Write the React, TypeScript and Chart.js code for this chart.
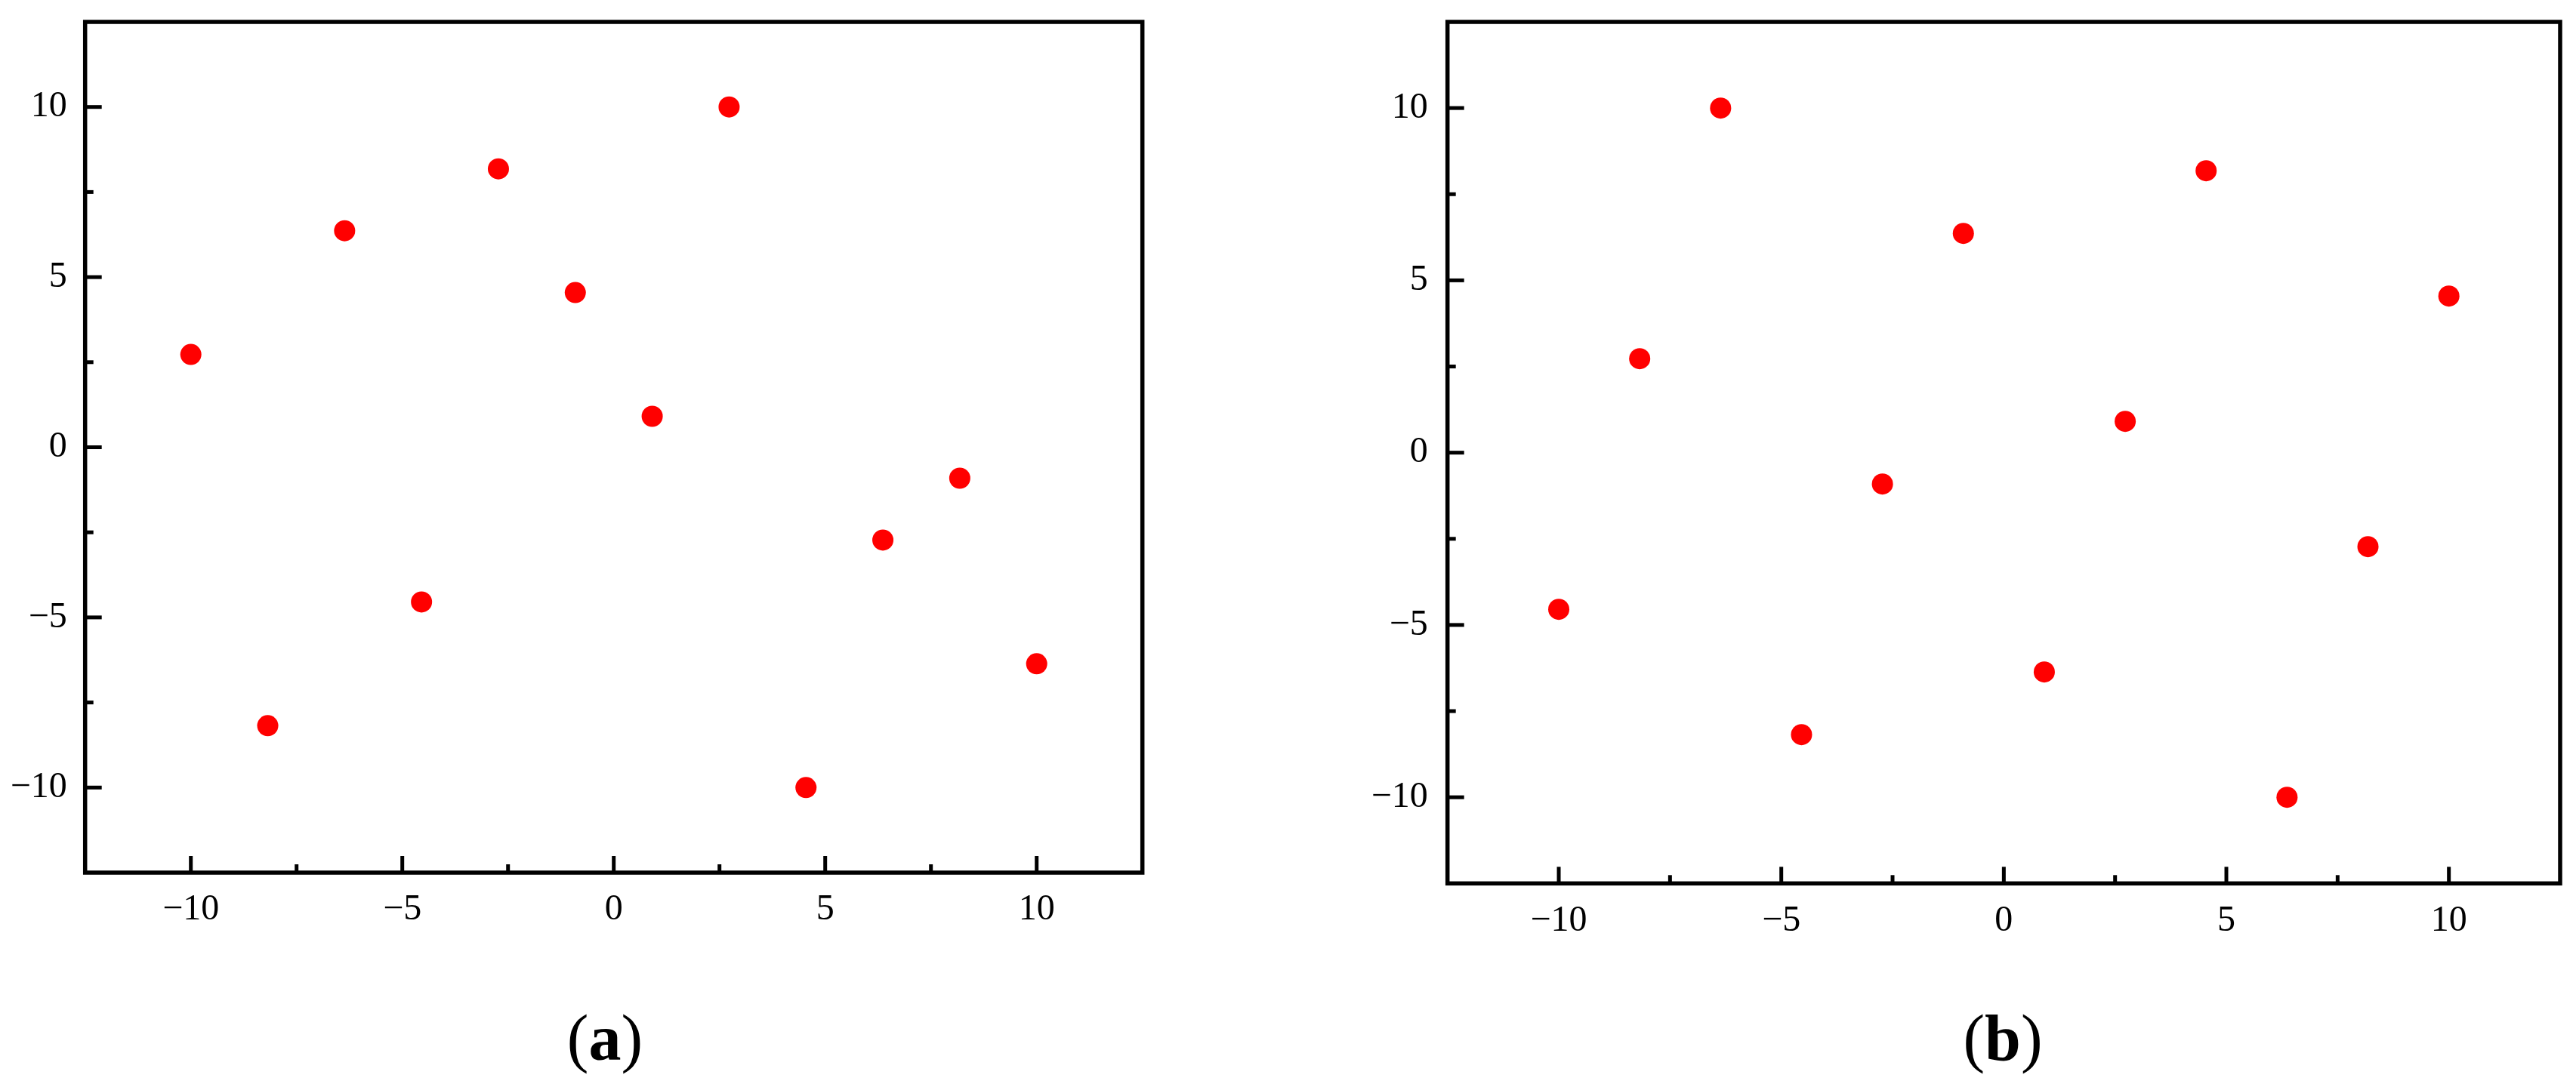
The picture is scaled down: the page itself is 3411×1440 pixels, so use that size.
import React, { useEffect, useRef } from "react";
import { Chart, registerables } from "chart.js";

Chart.register(...registerables);

// ---- data ----
const X_VALUES = [-10, -8.1818, -6.3636, -4.5455, -2.7273, -0.9091, 0.9091, 2.7273, 4.5455, 6.3636, 8.1818, 10];
const Y_VALUES_A = [2.7273, -8.1818, 6.3636, -4.5455, 8.1818, 4.5455, 0.9091, 10, -10, -2.7273, -0.9091, -6.3636];
const Y_VALUES_B = [-4.5455, 2.7273, 10, -8.1818, -0.9091, 6.3636, -6.3636, 0.9091, 8.1818, -10, -2.7273, 4.5455];
const MAJOR_TICKS = [-10, -5, 0, 5, 10];
const MINOR_TICKS = [-7.5, -2.5, 2.5, 7.5];
const AXIS_MIN = -12.5;
const AXIS_MAX = 12.5;
const CAPTION_A = "a";
const CAPTION_B = "b";

const FONT = "'Liberation Serif', 'Times New Roman', serif";

const fmt = (v: number) => (v < 0 ? "\u2212" + Math.abs(v) : String(v));

const framePlugin = {
  id: "frameTicks",
  afterDraw(chart: any) {
    const { ctx, chartArea: a, scales } = chart;
    const xs = scales.x;
    const ys = scales.y;
    ctx.save();
    ctx.strokeStyle = "#000";
    ctx.lineCap = "butt";
    ctx.lineWidth = 5;
    const line = (x1: number, y1: number, x2: number, y2: number) => {
      ctx.beginPath();
      ctx.moveTo(x1, y1);
      ctx.lineTo(x2, y2);
      ctx.stroke();
    };
    MAJOR_TICKS.forEach((v) => {
      const px = xs.getPixelForValue(v);
      line(px, a.bottom, px, a.bottom - 22);
      const py = ys.getPixelForValue(v);
      line(a.left, py, a.left + 22, py);
    });
    MINOR_TICKS.forEach((v) => {
      const px = xs.getPixelForValue(v);
      line(px, a.bottom, px, a.bottom - 11);
      const py = ys.getPixelForValue(v);
      line(a.left, py, a.left + 11, py);
    });
    ctx.lineWidth = 5.5;
    ctx.lineJoin = "miter";
    ctx.strokeRect(a.left, a.top, a.right - a.left, a.bottom - a.top);
    ctx.restore();
  },
};

type PanelProps = {
  ys: number[];
  left: number;
  width: number;
  height: number;
  yAxisWidth: number;
  xAxisHeight: number;
  padRight: number;
  padTop: number;
  yLabelPad: number;
  xLabelPad: number;
};

function Panel(p: PanelProps) {
  const ref = useRef<HTMLCanvasElement>(null);
  useEffect(() => {
    const data = X_VALUES.map((x, i) => ({ x, y: p.ys[i] }));
    const chart = new Chart(ref.current as HTMLCanvasElement, {
      type: "scatter",
      data: {
        datasets: [
          {
            data,
            pointRadius: 14,
            pointHoverRadius: 14,
            pointBackgroundColor: "#ff0000",
            pointBorderWidth: 0,
            borderColor: "#ff0000",
          },
        ],
      },
      options: {
        animation: false,
        responsive: false,
        maintainAspectRatio: false,
        events: [],
        layout: { padding: { left: 0, top: p.padTop, right: p.padRight, bottom: 0 } },
        plugins: { legend: { display: false }, tooltip: { enabled: false } },
        scales: {
          x: {
            type: "linear",
            min: AXIS_MIN,
            max: AXIS_MAX,
            grid: { display: false, drawTicks: false },
            border: { display: false },
            afterBuildTicks: (s: any) => {
              s.ticks = MAJOR_TICKS.map((v) => ({ value: v }));
            },
            afterFit: (s: any) => {
              s.height = p.xAxisHeight;
              s.paddingLeft = 0;
              s.paddingRight = 0;
              s.paddingTop = 0;
              s.paddingBottom = 0;
            },
            ticks: {
              autoSkip: false,
              maxRotation: 0,
              padding: p.xLabelPad,
              color: "#000",
              font: { family: FONT, size: 48 },
              callback: (v: any) => fmt(Number(v)),
            },
          },
          y: {
            type: "linear",
            min: AXIS_MIN,
            max: AXIS_MAX,
            grid: { display: false, drawTicks: false },
            border: { display: false },
            afterBuildTicks: (s: any) => {
              s.ticks = MAJOR_TICKS.map((v) => ({ value: v }));
            },
            afterFit: (s: any) => {
              s.width = p.yAxisWidth;
              s.paddingLeft = 0;
              s.paddingRight = 0;
              s.paddingTop = 0;
              s.paddingBottom = 0;
            },
            ticks: {
              autoSkip: false,
              padding: p.yLabelPad,
              color: "#000",
              font: { family: FONT, size: 48 },
              callback: (v: any) => fmt(Number(v)),
            },
          },
        },
      },
      plugins: [framePlugin],
    } as any);
    return () => chart.destroy();
  }, []);
  return (
    <canvas
      ref={ref}
      width={p.width}
      height={p.height}
      style={{ position: "absolute", left: p.left, top: 0, width: p.width, height: p.height }}
    />
  );
}

function Caption({ letter, cx }: { letter: string; cx: number }) {
  return (
    <div
      style={{
        position: "absolute",
        left: cx - 200,
        top: 1332,
        width: 400,
        textAlign: "center",
        fontFamily: FONT,
        fontSize: 86,
        lineHeight: "86px",
        color: "#000",
        whiteSpace: "nowrap",
      }}
    >
      (<b>{letter}</b>)
    </div>
  );
}

export default function App() {
  return (
    <div
      style={{
        position: "absolute",
        left: 0,
        top: 0,
        width: 3411,
        height: 1440,
        background: "#fff",
        overflow: "hidden",
      }}
    >
      <Panel
        ys={Y_VALUES_A}
        left={0}
        width={1700}
        height={1300}
        yAxisWidth={112.7}
        xAxisHeight={144}
        padRight={187.3}
        padTop={29}
        yLabelPad={24}
        xLabelPad={21}
      />
      <Panel
        ys={Y_VALUES_B}
        left={1800}
        width={1611}
        height={1300}
        yAxisWidth={116.7}
        xAxisHeight={129.7}
        padRight={21}
        padTop={29}
        yLabelPad={26}
        xLabelPad={21}
      />
      <Caption letter={CAPTION_A} cx={801} />
      <Caption letter={CAPTION_B} cx={2652} />
    </div>
  );
}
